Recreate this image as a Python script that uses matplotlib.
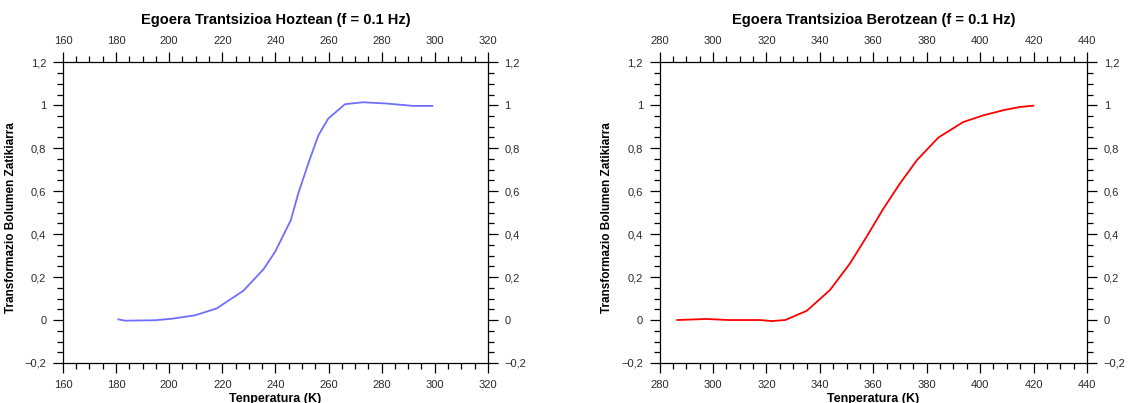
import numpy as np
import matplotlib
matplotlib.use("Agg")
import matplotlib.pyplot as plt
import matplotlib.ticker as ticker

plt.rcParams["font.family"] = ["Liberation Sans", "DejaVu Sans"]

# Cooling transition (blue)
temp_cool = [180.9, 183.4, 194.7, 201.0, 209.7, 217.9, 227.9, 235.5, 239.9,
             245.8, 248.6, 252.8, 256.2, 259.9, 266.2, 273.1, 281.9, 291.9, 299.1]
frac_cool = [0.003, -0.003, -0.001, 0.006, 0.022, 0.054, 0.136, 0.236, 0.318,
             0.465, 0.589, 0.744, 0.860, 0.938, 1.005, 1.014, 1.008, 0.997, 0.997]

# Heating transition (red)
temp_heat = [286.6, 297.6, 305.7, 317.6, 322.0, 327.0, 335.1, 343.8, 351.3,
             357.5, 363.8, 370.0, 376.3, 384.4, 393.7, 401.2, 408.7, 414.9, 419.9]
frac_heat = [0.0, 0.005, 0.0, 0.0, -0.005, 0.0, 0.043, 0.14, 0.264,
             0.388, 0.519, 0.636, 0.744, 0.850, 0.922, 0.953, 0.977, 0.992, 0.998]

titles = ["Egoera Trantsizioa Hoztean (f = 0.1 Hz)",
          "Egoera Trantsizioa Berotzean (f = 0.1 Hz)"]
xlims = [(160, 320), (280, 440)]
ylabel = "Transformazio Bolumen Zatikiarra"
xlabel = "Tenperatura (K)"


def comma_fmt(v, pos):
    s = f"{v:.1f}".rstrip("0").rstrip(".")
    if s in ("-0", ""):
        s = "0"
    return s.replace(".", ",").replace("-", "\u2212")


fig = plt.figure(figsize=(11.28, 4.03), dpi=100)
ax_l = fig.add_axes([0.0558, 0.0993, 0.3767, 0.7461])
ax_r = fig.add_axes([0.5848, 0.0993, 0.3788, 0.7461])

series = [(ax_l, temp_cool, frac_cool, "#6f6fff", -0.107),
          (ax_r, temp_heat, frac_heat, "#ff0000", -0.110)]

for i, (ax, t, f, col, ylab_x) in enumerate(series):
    ax.plot(t, f, color=col, lw=1.3)
    ax.set_xlim(*xlims[i])
    ax.set_ylim(-0.2, 1.2)
    ax.xaxis.set_major_locator(ticker.MultipleLocator(20))
    ax.xaxis.set_minor_locator(ticker.MultipleLocator(5))
    ax.yaxis.set_major_locator(ticker.MultipleLocator(0.2))
    ax.yaxis.set_minor_locator(ticker.MultipleLocator(0.05))
    ax.yaxis.set_major_formatter(ticker.FuncFormatter(comma_fmt))
    ax.tick_params(which="both", direction="out", top=True, right=True,
                   labeltop=True, labelright=True, labelsize=8,
                   labelcolor="#2a2a2a", width=0.9)
    ax.tick_params(which="major", length=7, pad=5)
    ax.tick_params(which="minor", length=4)
    for sp in ax.spines.values():
        sp.set_linewidth(0.9)
    ax.set_title(titles[i], fontsize=10.5, fontweight="bold", y=1.112,
                 va="center")
    ax.set_ylabel(ylabel, fontsize=8.5, fontweight="bold")
    ax.yaxis.set_label_coords(ylab_x, 0.485)
    ax.set_xlabel(xlabel, fontsize=9, fontweight="bold")
    ax.xaxis.set_label_coords(0.5, -0.1)

fig.savefig("out.png", dpi=100)
